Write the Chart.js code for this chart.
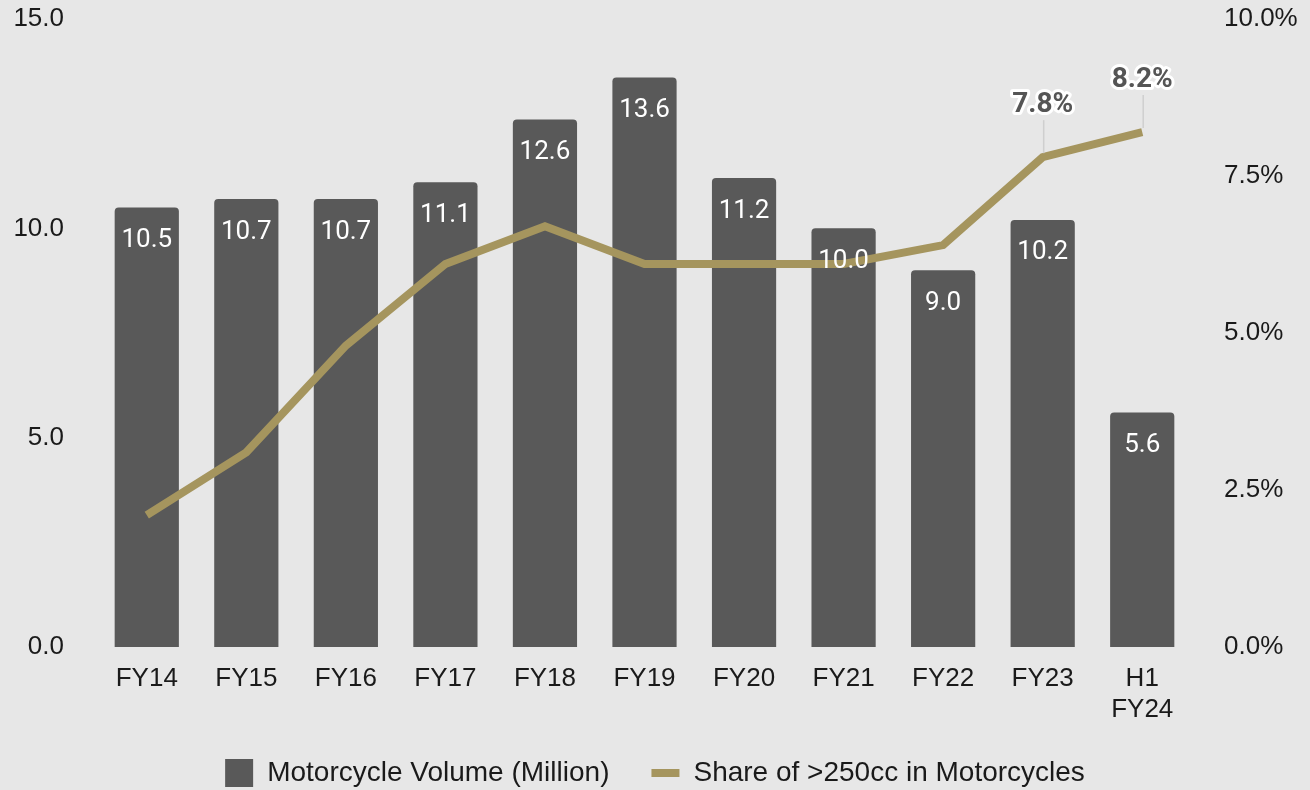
<!DOCTYPE html>
<html>
<head>
<meta charset="utf-8">
<script src="https://cdn.jsdelivr.net/npm/chart.js@4.4.0/dist/chart.umd.min.js"></script>
<style>
  html, body { margin: 0; padding: 0; background: #e7e7e7; }
  #wrap { width: 1310px; height: 790px; position: relative; }
</style>
</head>
<body>
<div id="wrap"><canvas id="c" width="1310" height="790"></canvas></div>
<script>
const categories = ['FY14', 'FY15', 'FY16', 'FY17', 'FY18', 'FY19', 'FY20', 'FY21', 'FY22', 'FY23', ['H1', 'FY24']];
const volumeMillion = [10.5, 10.7, 10.7, 11.1, 12.6, 13.6, 11.2, 10.0, 9.0, 10.2, 5.6];
const share250cc = [2.1, 3.1, 4.8, 6.1, 6.7, 6.1, 6.1, 6.1, 6.4, 7.8, 8.2];
const shareLabelIdx = [9, 10];
const leftTicks = [0, 5, 10, 15];
const rightTicks = [0, 2.5, 5, 7.5, 10];

const BAR = '#595959';
const LINE = '#a5955e';
const TICK = '#1a1a1a';
const SANS = '"Liberation Sans", Arial, sans-serif';

const bgPlugin = {
  id: 'bg',
  afterInit(chart) {
    const lg = chart.legend;
    if (lg && !lg._patched) {
      const orig = lg.fit.bind(lg);
      lg.fit = function () { orig(); this.height = 73; };
      lg._patched = true;
    }
  },
  beforeDraw(chart) {
    const ctx = chart.ctx;
    ctx.save();
    ctx.fillStyle = '#e7e7e7';
    ctx.fillRect(0, 0, chart.width, chart.height);
    ctx.restore();
  }
};

const labelPlugin = {
  id: 'valLabels',
  afterDatasetsDraw(chart) {
    const ctx = chart.ctx;
    ctx.save();
    const barMeta = chart.getDatasetMeta(0);
    ctx.font = '26px Roboto, "Liberation Sans", sans-serif';
    ctx.fillStyle = '#ffffff';
    ctx.textAlign = 'center';
    ctx.textBaseline = 'middle';
    barMeta.data.forEach((el, i) => {
      ctx.fillText(volumeMillion[i].toFixed(1), el.x, el.y + 33);
    });
    const lineMeta = chart.getDatasetMeta(1);
    shareLabelIdx.forEach(i => {
      const el = lineMeta.data[i];
      const ly = el.y - 52;
      ctx.strokeStyle = '#cfcfcf';
      ctx.lineWidth = 1.5;
      ctx.beginPath();
      ctx.moveTo(el.x + 1, el.y - 4);
      ctx.lineTo(el.x + 1, ly + 15);
      ctx.stroke();
      ctx.font = 'bold 28px Roboto, "Liberation Sans", sans-serif';
      ctx.lineJoin = 'round';
      ctx.lineWidth = 6;
      ctx.strokeStyle = '#ffffff';
      const t = share250cc[i].toFixed(1) + '%';
      ctx.strokeText(t, el.x, ly);
      ctx.fillStyle = '#555555';
      ctx.fillText(t, el.x, ly);
    });
    ctx.restore();
  }
};

new Chart(document.getElementById('c'), {
  data: {
    labels: categories,
    datasets: [
      {
        type: 'bar',
        label: 'Motorcycle Volume (Million)',
        data: volumeMillion,
        backgroundColor: BAR,
        borderWidth: 0,
        borderRadius: 4,
        borderSkipped: 'start',
        barPercentage: 0.645,
        categoryPercentage: 1.0,
        yAxisID: 'y',
        order: 2
      },
      {
        type: 'line',
        label: 'Share of >250cc in Motorcycles',
        data: share250cc,
        borderColor: LINE,
        backgroundColor: LINE,
        borderWidth: 8,
        pointRadius: 0,
        tension: 0,
        yAxisID: 'y1',
        order: 1
      }
    ]
  },
  options: {
    responsive: false,
    animation: false,
    events: [],
    layout: { padding: { top: 19, left: 0, right: 0, bottom: 0 } },
    plugins: {
      tooltip: { enabled: false },
      legend: {
        position: 'bottom',
        labels: {
          usePointStyle: true,
          pointStyleWidth: 28,
          boxHeight: 28,
          padding: 42,
          color: '#1a1a1a',
          font: { family: SANS, size: 28 },
          sort: (a, b) => a.datasetIndex - b.datasetIndex,
          generateLabels(chart) {
            const items = Chart.defaults.plugins.legend.labels.generateLabels(chart);
            items.forEach(it => {
              if (it.datasetIndex === 0) { it.pointStyle = 'rect'; it.lineWidth = 0; }
              else { it.pointStyle = 'line'; it.lineWidth = 8; it.strokeStyle = LINE; }
            });
            return items;
          }
        }
      }
    },
    scales: {
      x: {
        grid: { display: false },
        border: { display: false },
        ticks: {
          color: TICK,
          font: { family: SANS, size: 26 },
          padding: 8,
          maxRotation: 0,
          autoSkip: false
        },
        afterFit(scale) { scale.height = 70; scale.paddingLeft = 0; scale.paddingRight = 0; }
      },
      y: {
        position: 'left',
        min: 0,
        max: 15,
        grid: { display: false },
        border: { display: false },
        afterBuildTicks(scale) { scale.ticks = leftTicks.map(v => ({ value: v })); },
        ticks: {
          color: TICK,
          font: { family: SANS, size: 26 },
          padding: 25,
          callback: v => v.toFixed(1)
        },
        afterFit(scale) { scale.width = 97; scale.paddingTop = 0; scale.paddingBottom = 0; }
      },
      y1: {
        position: 'right',
        min: 0,
        max: 10,
        grid: { display: false },
        border: { display: false },
        afterBuildTicks(scale) { scale.ticks = rightTicks.map(v => ({ value: v })); },
        ticks: {
          color: TICK,
          font: { family: SANS, size: 26 },
          padding: 24,
          callback: v => v.toFixed(1) + '%'
        },
        afterFit(scale) { scale.width = 118; scale.paddingTop = 0; scale.paddingBottom = 0; }
      }
    }
  },
  plugins: [bgPlugin, labelPlugin]
});
</script>
</body>
</html>
